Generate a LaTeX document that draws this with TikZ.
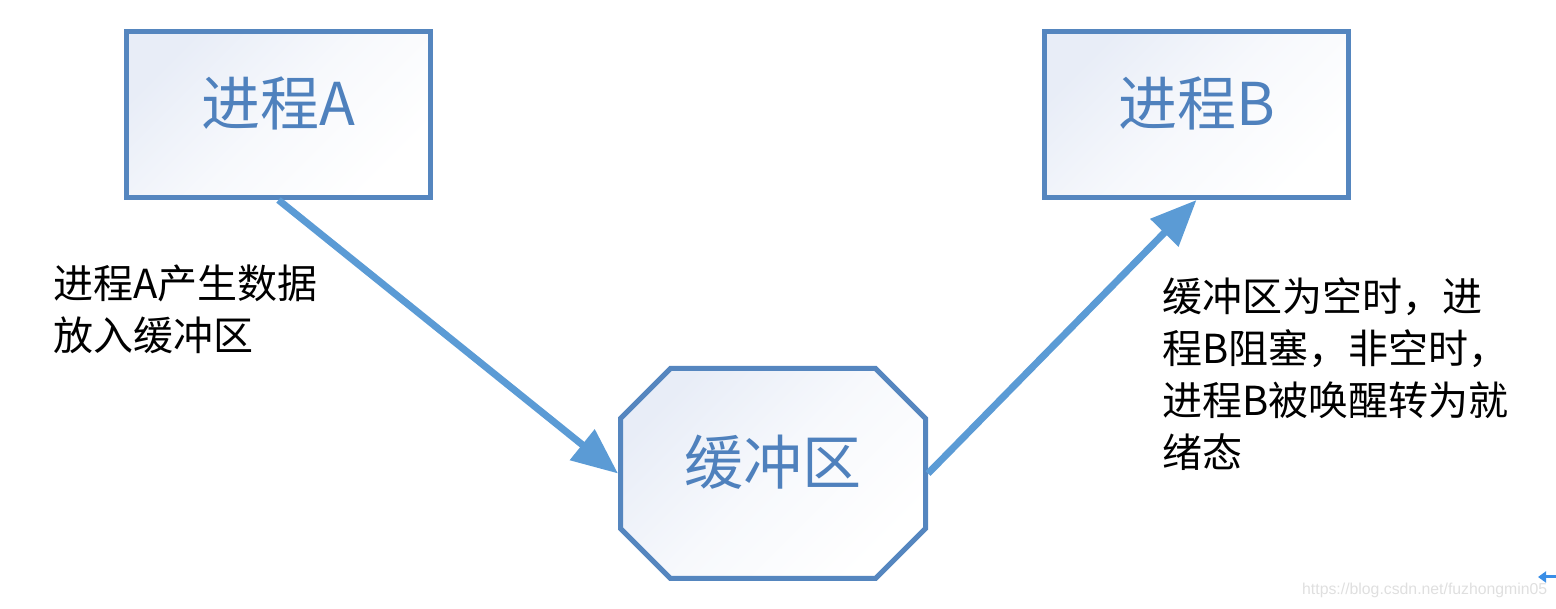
\documentclass[tikz,border=0pt]{standalone}
\usepackage{fontspec}
\setmainfont{Noto Sans CJK SC}
\newfontfamily\wmfont{Liberation Sans}
\usetikzlibrary{arrows.meta,shapes.misc}
\definecolor{bord}{HTML}{5586BF}
\definecolor{txtc}{HTML}{4F81BD}
\definecolor{arrc}{HTML}{5B9BD5}
\definecolor{fillc}{HTML}{E8EDF7}
\definecolor{wmblue}{HTML}{3A8EE6}
\begin{document}
\begin{tikzpicture}[x=1pt,y=1pt,
  boxstyle/.style={draw=bord, line width=5pt, inner sep=0pt, top color=fillc, bottom color=white, middle color=fillc!35!white, shading angle=45, text=txtc, font=\fontsize{59}{60}\selectfont, text height=46pt, text depth=24pt},
  conn/.style={draw=arrc, line width=7pt, -{Triangle[length=46pt,width=38pt]}},
  note/.style={anchor=north west, inner sep=0pt, align=left, font=\fontsize{40}{52}\selectfont}]
\useasboundingbox (0,0) rectangle (1556,608);
\node[boxstyle, minimum width=304pt, minimum height=166pt] (A) at (278.5,493.5) {进程A};
\node[boxstyle, minimum width=304pt, minimum height=166pt] (B) at (1196.5,493.5) {进程B};
\node[boxstyle, chamfered rectangle, chamfered rectangle xsep=25pt, chamfered rectangle ysep=25pt, minimum width=305pt, minimum height=210pt] (buf) at (773,134.5) {缓冲区};
\draw[conn] (A.south) -- (buf.west);
\draw[conn] (buf.east) -- (B.south);
\node[note] (na) at (53,343) {进程A产生数据\\放入缓冲区};
\node[note] (nb) at (1162,331) {缓冲区为空时，进\\程B阻塞，非空时，\\进程B被唤醒转为就\\绪态};
\node[anchor=base west, inner sep=0pt, text=gray!25, font=\wmfont\fontsize{15.8}{17}\selectfont] (wm) at (1302,13) {https://blog.csdn.net/fuzhongmin05};
\coordinate (ws) at (1556,31);
\coordinate (we) at (1538,31);
\draw[line width=3pt, draw=wmblue, -{Triangle[length=8pt,width=11pt]}] (ws) -- (we);
\end{tikzpicture}
\end{document}
